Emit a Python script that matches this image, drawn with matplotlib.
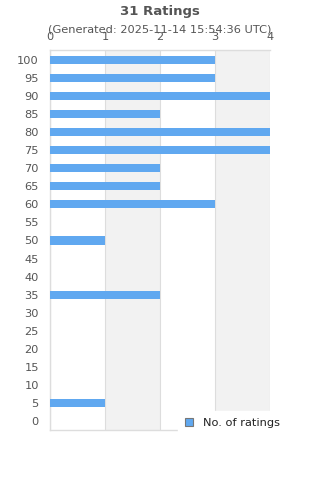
import matplotlib.pyplot as plt
import numpy as np

# rating buckets, top to bottom
ratings = [100, 95, 90, 85, 80, 75, 70, 65, 60, 55, 50,
           45, 40, 35, 30, 25, 20, 15, 10, 5, 0]
counts = [3, 3, 4, 2, 4, 4, 2, 2, 3, 0, 1,
          0, 0, 2, 0, 0, 0, 0, 0, 1, 0]
x_ticks = [0, 1, 2, 3, 4]

title = "31 Ratings"
subtitle = "(Generated: 2025-11-14 15:54:36 UTC)"
series_name = "No. of ratings"

bar_color = "#60a8f0"
text_color = "#555555"
grid_color = "#dddddd"
band_color = "#f2f2f2"
fs = 8.2

fig = plt.figure(figsize=(3.2, 4.8), dpi=100)
ax = fig.add_axes([0.156, 0.104, 0.688, 0.792])

pos = np.arange(len(ratings))
ax.barh(pos, counts, height=0.45, color=bar_color, label=series_name, zorder=3)

# alternating background bands
for i in range(len(x_ticks) - 1):
    if i % 2 == 1:
        ax.axvspan(x_ticks[i], x_ticks[i + 1], color=band_color, zorder=0, lw=0)

ax.set_xlim(0, 4)
ax.set_ylim(len(ratings) - 0.5, -0.55)
ax.set_xticks(x_ticks)
ax.xaxis.tick_top()
ax.set_yticks(pos)
ax.set_yticklabels([str(r) for r in ratings])
ax.tick_params(axis="both", length=0, labelsize=fs, colors=text_color)
ax.tick_params(axis="x", pad=5.5)
ax.tick_params(axis="y", pad=8)

ax.grid(axis="x", color=grid_color, lw=0.8, zorder=1)
for side in ["left", "bottom", "top", "right"]:
    ax.spines[side].set_color(grid_color)
    ax.spines[side].set_linewidth(1)
ax.spines["right"].set_visible(False)

fig.text(0.5, 0.977, title, ha="center", va="center", fontsize=9.5,
         fontweight="bold", color=text_color)
fig.text(0.5, 0.938, subtitle, ha="center", va="center", fontsize=fs,
         color=text_color)

leg = ax.legend(loc="upper left", bbox_to_anchor=(0.582, 0.05), fontsize=fs,
                frameon=True, fancybox=False, handlelength=0.7, handleheight=0.7,
                handletextpad=0.9, borderpad=0.6, borderaxespad=0)
leg.get_frame().set_edgecolor("white")
leg.get_frame().set_facecolor("white")
leg.get_frame().set_alpha(1)
leg.set_zorder(5)
for h in leg.legend_handles:
    h.set_edgecolor("#777777")
    h.set_linewidth(0.8)
for t in leg.get_texts():
    t.set_color("#222222")

fig.savefig("out.png", dpi=100)
